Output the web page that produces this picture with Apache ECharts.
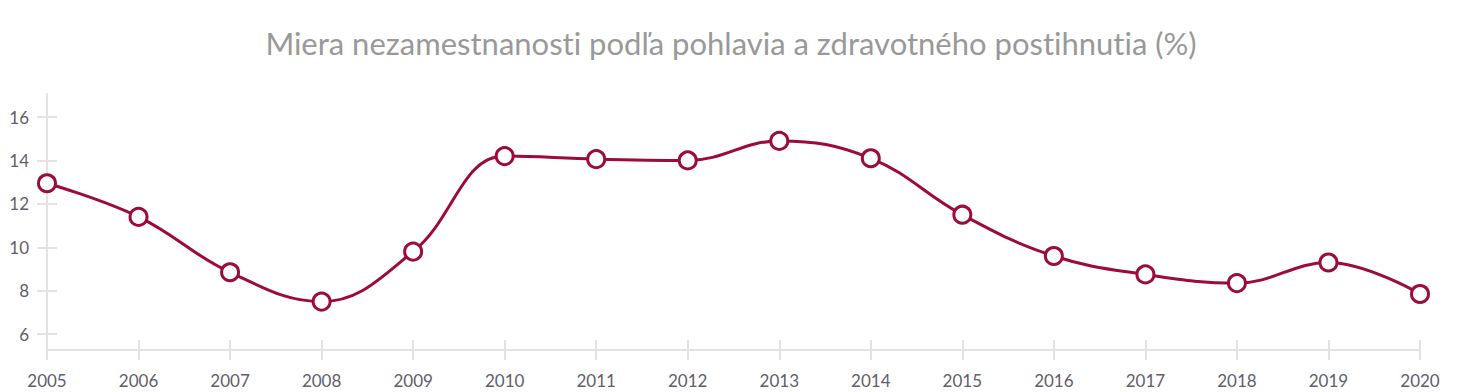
<!DOCTYPE html>
<html><head><meta charset="utf-8">
<script src="https://cdn.jsdelivr.net/npm/echarts@6/dist/echarts.min.js"></script>
<style>html,body{margin:0;padding:0;background:#fff}#c{width:1462px;height:392px}#c text{font-variant-ligatures:none !important;font-feature-settings:"liga" 0 !important}</style>
</head><body><div id="c"></div>
<script>
const title = 'Miera nezamestnanosti podľa pohlavia a zdravotného postihnutia (%)';
const years = ['2005','2006','2007','2008','2009','2010','2011','2012','2013','2014','2015','2016','2017','2018','2019','2020'];
const values = [12.95, 11.4, 8.85, 7.5, 9.8, 14.2, 14.06, 14.0, 14.9, 14.1, 11.5, 9.6, 8.75, 8.35, 9.3, 7.85];
const yTicks = [6, 8, 10, 12, 14, 16];

const axisColor = '#e3e3e3';
const labelColor = '#5f5e6b';
const font = 'Lato, "Source Sans Pro", sans-serif';
const chart = echarts.init(document.getElementById('c'), null, { renderer: 'svg' });
const yMin = 5.27, yMax = 17.06;
chart.setOption({
  animation: false,
  title: { text: title, left: 'center', top: 22, textStyle: { color: '#999999', fontSize: 31, fontWeight: 'normal', fontFamily: font } },
  grid: { left: 47, right: 42, top: 94, bottom: 42 },
  xAxis: [{
    type: 'category', data: years, boundaryGap: false, position: 'bottom',
    axisLine: { lineStyle: { color: axisColor, width: 2 } },
    axisTick: { alignWithLabel: true, length: 10, lineStyle: { color: axisColor, width: 2 } },
    axisLabel: { color: labelColor, fontSize: 17, fontFamily: font, margin: 22, interval: 0 },
    splitLine: { show: false }
  }, {
    type: 'category', data: years, boundaryGap: false, position: 'bottom', offset: 0,
    axisLine: { show: false },
    axisTick: { inside: true, length: 10, lineStyle: { color: axisColor, width: 2 } },
    axisLabel: { show: false }, splitLine: { show: false }
  }],
  yAxis: [{
    type: 'value', min: yMin, max: yMax,
    axisLine: { show: true, lineStyle: { color: axisColor, width: 2 } },
    axisTick: { show: true, length: 10, customValues: yTicks, lineStyle: { color: axisColor, width: 2 } },
    axisLabel: { color: labelColor, fontSize: 17, fontFamily: font, margin: 18, customValues: yTicks },
    splitLine: { show: false }
  }, {
    type: 'value', min: yMin, max: yMax, position: 'left', offset: 0,
    axisLine: { show: false },
    axisTick: { show: true, inside: true, length: 10, customValues: yTicks, lineStyle: { color: axisColor, width: 2 } },
    axisLabel: { show: false, customValues: yTicks },
    splitLine: { show: false }
  }],
  series: [{
    type: 'line', data: values, smooth: 0.4,
    symbol: 'circle', symbolSize: 17,
    lineStyle: { color: '#9c0b3b', width: 3 },
    itemStyle: { color: '#ffffff', borderColor: '#9c0b3b', borderWidth: 3 }
  }]
});
</script></body></html>
